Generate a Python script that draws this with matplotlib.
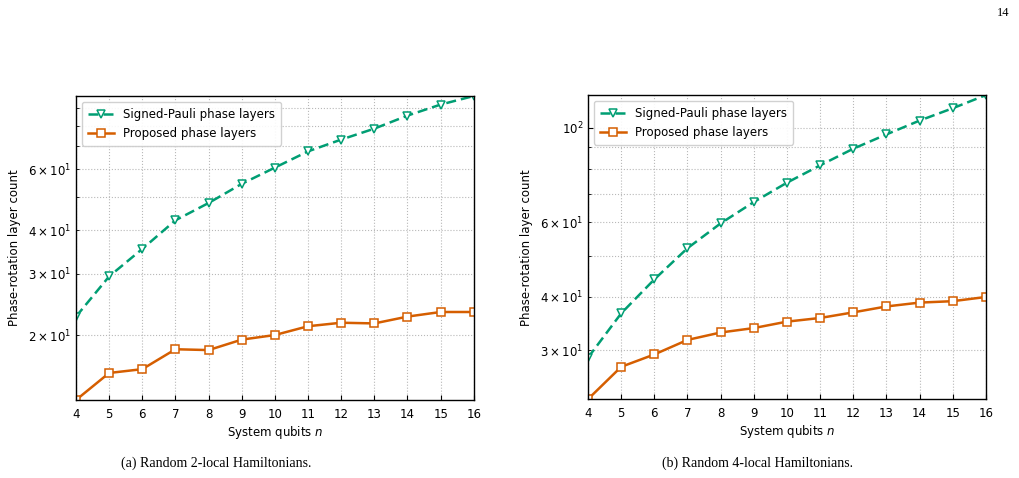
#!/usr/bin/env python3
import numpy as np
import matplotlib
matplotlib.use("Agg")
import matplotlib.pyplot as plt

# system sizes
qubits = [4, 5, 6, 7, 8, 9, 10, 11, 12, 13, 14, 15, 16]

# (a) random 2-local hamiltonians
signed_2local = [22.6, 29.5, 35.4, 42.8, 48.0, 54.5, 60.7, 67.6, 73.1, 78.6, 85.7, 92.2, 97.6]
proposed_2local = [13.0, 15.55, 15.95, 18.2, 18.1, 19.4, 20.0, 21.2, 21.7, 21.6, 22.6, 23.3, 23.3]

# (b) random 4-local hamiltonians
signed_4local = [28.8, 36.6, 44.0, 52.1, 59.6, 66.9, 74.3, 81.6, 89.3, 96.5, 104.0, 111.2, 119.4]
proposed_4local = [23.0, 27.4, 29.3, 31.7, 33.0, 33.8, 35.0, 35.7, 36.8, 38.0, 38.8, 39.1, 40.0]

captions = ["(a) Random 2-local Hamiltonians.", "(b) Random 4-local Hamiltonians."]

GREEN = "#009e73"
ORANGE = "#d55e00"

plt.rcParams["font.family"] = "DejaVu Sans"
plt.rcParams["mathtext.fontset"] = "dejavusans"

fig = plt.figure(figsize=(10.2, 4.78), dpi=100)
ax1 = fig.add_axes([0.0745, 0.1632, 0.390, 0.636])
ax2 = fig.add_axes([0.5765, 0.1650, 0.390, 0.636])


def draw(ax, signed, proposed):
    ax.plot(qubits, signed, linestyle=(0, (4, 2)), color=GREEN, linewidth=1.8,
            marker="v", markersize=5.5, markerfacecolor="white",
            markeredgecolor=GREEN, markeredgewidth=1.1,
            label="Signed-Pauli phase layers")
    ax.plot(qubits, proposed, linestyle="-", color=ORANGE, linewidth=1.8,
            marker="s", markersize=5.5, markerfacecolor="white",
            markeredgecolor=ORANGE, markeredgewidth=1.1,
            label="Proposed phase layers")
    ax.set_yscale("log")
    ax.set_xlim(qubits[0], qubits[-1])
    ax.set_ylim(min(min(signed), min(proposed)), max(max(signed), max(proposed)))
    ax.set_xticks(qubits)
    ax.grid(True, which="major", linestyle=":", color="#b8b8b8", linewidth=0.8)
    ax.grid(True, which="minor", axis="y", linestyle=":", color="#b8b8b8", linewidth=0.8)
    ax.tick_params(which="both", direction="in", labelsize=8.5)
    ax.tick_params(axis="x", pad=6)
    ax.set_xlabel("System qubits $n$", fontsize=8.5, labelpad=2)
    ax.set_ylabel("Phase-rotation layer count", fontsize=8.5, labelpad=5)
    for s in ax.spines.values():
        s.set_linewidth(1.0)
    ax.legend(loc="upper left", fontsize=8.5, fancybox=True, framealpha=0.9,
              edgecolor="#cccccc", borderpad=0.5, handlelength=2.2)


draw(ax1, signed_2local, proposed_2local)
draw(ax2, signed_4local, proposed_4local)

fig.text(216 / 1020, 1 - 463 / 478, captions[0], ha="center", va="center",
         family="Liberation Serif", fontsize=10)
fig.text(757 / 1020, 1 - 463 / 478, captions[1], ha="center", va="center",
         family="Liberation Serif", fontsize=10)
fig.text(1003 / 1020, 1 - 13 / 478, "14", ha="center", va="center",
         family="Liberation Serif", fontsize=9)

fig.savefig("out.png", dpi=100)
